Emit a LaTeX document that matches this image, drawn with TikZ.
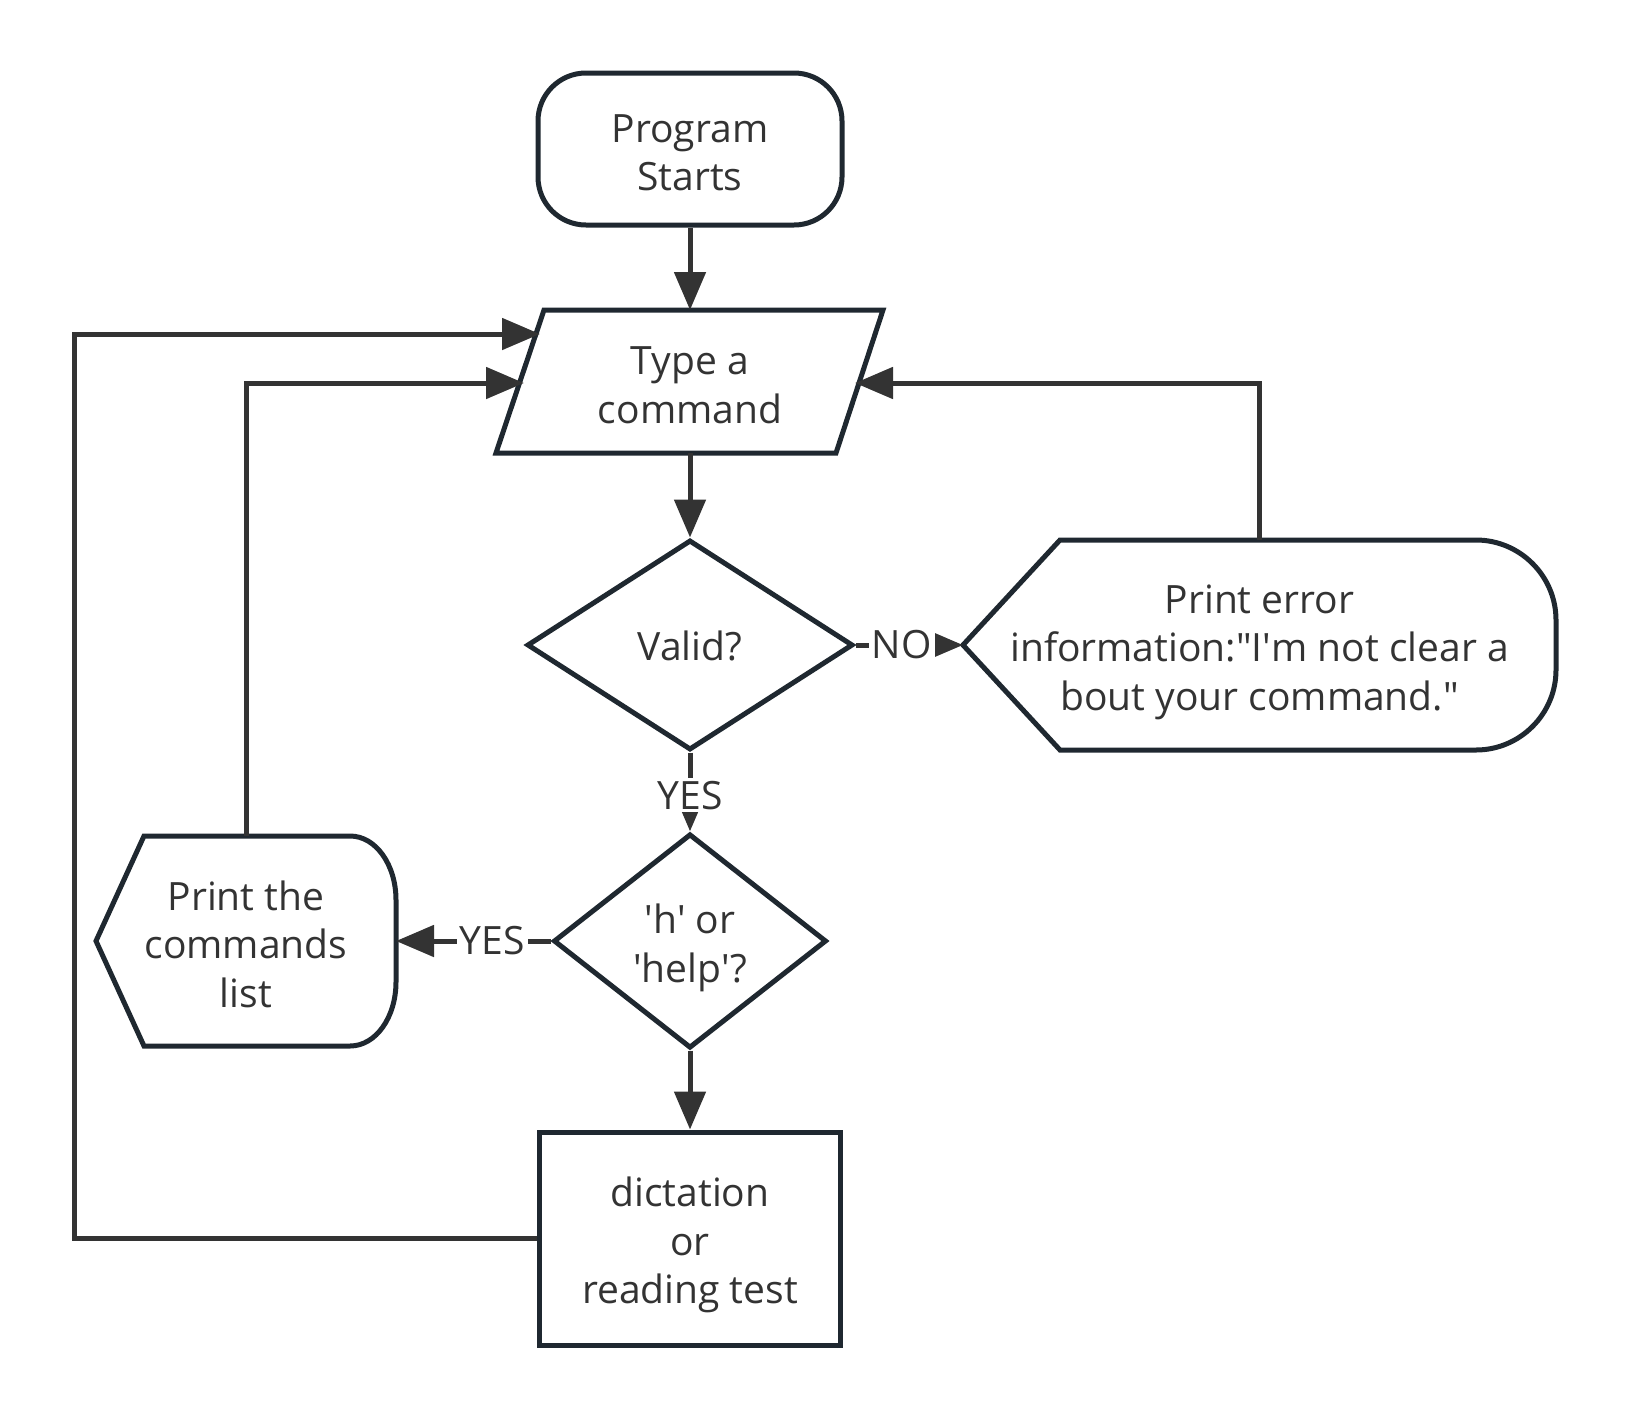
\documentclass[tikz,border=0pt]{standalone}
\usepackage{fontspec}
\setmainfont{Open Sans}
\usetikzlibrary{shapes.geometric,arrows.meta,calc}
\definecolor{edgec}{HTML}{1F2830}
\definecolor{conn}{HTML}{333333}
\definecolor{txt}{HTML}{333333}
\newcommand\lnstrut{\rule[-0.2em]{0pt}{1.3em}}
\newcommand\lastlnstrut{\rule[-0.2em]{0pt}{0pt}}
\begin{document}
\begin{tikzpicture}[x=1pt,y=-1pt,
  every node/.style={font=\fontsize{39}{48.5}\selectfont, text=txt, align=center},
  box/.style={draw=edgec, line width=5pt, inner sep=0pt},
  arr/.style={draw=conn, line width=5pt, -{Triangle[length=38pt,width=31pt]}},
  lbl/.style={fill=white, inner sep=3pt},
  ghost/.style={draw=none, inner sep=0pt, outer sep=0pt},
  outline/.style={draw=edgec, line width=5pt, line join=miter}]
\useasboundingbox (0,0) rectangle (1632,1419);

\node[box, rounded corners=48pt, minimum width=304pt, minimum height=152pt] (start) at (690,149) {\lnstrut Program\\Starts\lastlnstrut};
\node[ghost, minimum width=387pt, minimum height=143pt] (cmd) at (690,381.5) {\lnstrut Type a\\command\lastlnstrut};
\node[box, diamond, minimum width=326pt, minimum height=210pt] (valid) at (690,645) {\rule[-0.2em]{0pt}{1.2em}Valid?};
\node[ghost, minimum width=593pt, minimum height=210pt] (err) at (1259.5,645) {\lnstrut Print error\\information:\textquotedbl I\textquotesingle m not clear a\\bout your command.\textquotedbl\lastlnstrut};
\node[box, diamond, minimum width=273pt, minimum height=210pt] (help) at (690,941) {\lnstrut\textquotesingle h\textquotesingle{} or\\\textquotesingle help\textquotesingle ?\lastlnstrut};
\node[ghost, minimum width=300pt, minimum height=210pt] (cmds) at (246,941) {\lnstrut Print the\\commands\\list\lastlnstrut};
\node[box, minimum width=301pt, minimum height=213pt] (dict) at (690,1238.5) {\lnstrut dictation\\or\\reading test\lastlnstrut};

\draw[outline, shift={(cmd.center)}] (-194,71.5) -- (-146,-71.5) -- (193,-71.5) -- (146,71.5) -- cycle;
\draw[outline, shift={(err.center)}] (-296.5,0) -- (-199.5,-105) -- (216.5,-105) .. controls (260.5,-105) and (296.5,-69) .. (296.5,-25) -- (296.5,25) .. controls (296.5,69) and (260.5,105) .. (216.5,105) -- (-199.5,105) -- cycle;
\draw[outline, shift={(cmds.center)}] (-150,0) -- (-102,-105) -- (104,-105) .. controls (130,-105) and (150,-76) .. (150,-41) -- (150,41) .. controls (150,76) and (130,105) .. (104,105) -- (-102,105) -- cycle;

\coordinate (cmdR) at ([shift={(165,1.5)}]cmd.center);
\coordinate (cmdL) at ([shift={(-166,1.5)}]cmd.center);
\coordinate (cmdLL) at ([shift={(-150,-47.5)}]cmd.center);
\coordinate (loopx) at (74,0);

\draw[arr] (start) -- (cmd);
\draw[arr] (cmd) -- (valid);
\draw[arr] (valid.east) -- node[lbl, pos=0.43]{NO} (err.west);
\draw[arr] (valid) -- node[lbl, pos=0.54]{YES} (help);
\draw[arr] (help.west) -- node[lbl, pos=0.38]{YES} (cmds.east);
\draw[arr] (help) -- (dict);
\draw[arr] (err.north) |- (cmdR);
\draw[arr] (cmds.north) |- (cmdL);
\draw[arr] (dict.west) -| (loopx |- cmdLL) -- (cmdLL);
\end{tikzpicture}
\end{document}
